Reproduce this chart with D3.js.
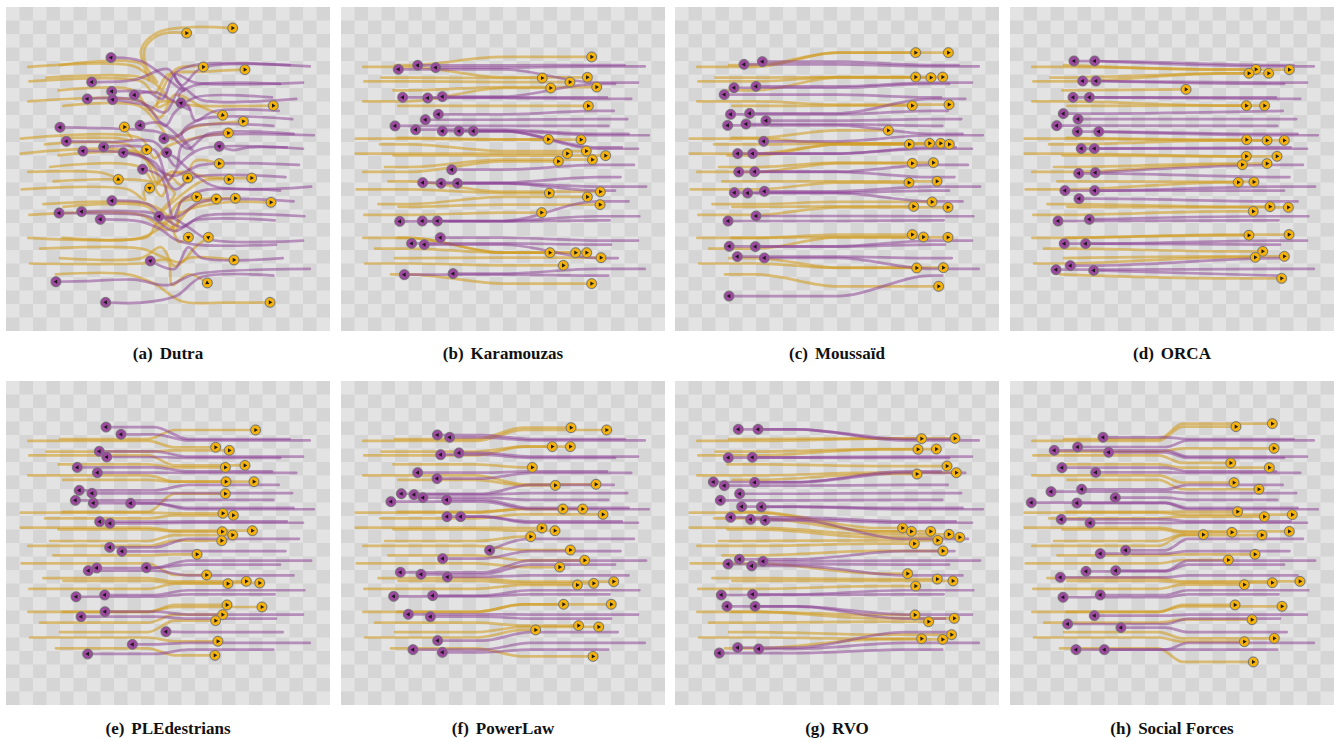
<!DOCTYPE html>
<html><head><meta charset="utf-8">
<script src="https://cdn.jsdelivr.net/npm/d3@7"></script>
<style>body{margin:0;background:#fff;} svg{display:block;}</style>
</head><body>
<svg id="chart" width="1336" height="742"></svg>
<script>
// ---------- DATA (scene coordinates in metres, 24 x 24 m, y pointing down) ----------
const panelLetters = ["(a)","(b)","(c)","(d)","(e)","(f)","(g)","(h)"];
const panelNames = ["Dutra","Karamouzas","Moussaïd","ORCA","PLEdestrians","PowerLaw","RVO","Social Forces"];

// common initial positions (same scenario for every model)
const yellowStarts = [[4.0,4.3],[1.65,4.44],[3.0,5.23],[1.73,5.51],[3.88,6.17],[1.65,6.99],[4.25,7.33],[4.2,9.7],[1.09,9.75],[2.89,10.17],[1.09,10.86],[3.88,10.99],[3.26,11.85],[1.65,12.22],[3.51,12.91],[1.16,13.51],[2.77,14.6],[4.25,14.8],[1.73,15.4],[1.65,17.1],[4.2,17.1],[2.52,17.9],[4.0,18.6],[1.78,19.0],[3.7,19.8]];
const purpleStarts = [[21.0,4.3],[22.5,4.4],[22.0,5.6],[20.3,5.7],[19.7,6.7],[21.5,6.8],[20.2,7.7],[21.2,8.3],[19.8,8.8],[21.3,9.4],[22.8,9.5],[20.8,10.4],[22.0,10.5],[21.7,11.7],[20.7,12.6],[22.6,13.3],[20.3,13.6],[21.3,14.4],[22.1,15.5],[19.9,15.8],[22.0,17.3],[20.0,17.6],[20.5,18.6],[22.5,19.4],[19.8,19.9]];

// (a) Dutra: final positions and intermediate way-points
const dutraYellowEnds = [[16.79,1.56],[13.38,1.93],[14.62,4.44],[17.70,4.64],[19.80,7.31],[16.05,8.02],[17.58,8.47],[8.77,8.89],[16.47,9.33],[10.42,10.57],[15.80,11.60],[13.46,12.67],[18.20,12.67],[8.32,12.77],[16.52,12.77],[10.64,13.41],[14.12,14.07],[16.99,14.17],[15.58,14.22],[19.63,14.47],[13.51,17.06],[14.99,17.06],[16.89,18.74],[14.91,20.44],[19.56,21.88]];
const dutraYellowVia = [
 [[10.0,4.2],[10.6,5.4],[10.0,3.2],[11.2,1.9],[13.5,1.5]],
 [[9.5,4.4],[11.2,5.6],[10.4,4.4],[10.3,3.0],[11.5,2.0]],
 [[10.0,5.2],[11.3,5.9],[12.0,7.0],[11.2,7.4],[12.6,4.6]],
 [[10.0,5.5],[11.0,6.4],[12.0,5.0],[14.5,4.8]],
 [[9.5,6.2],[10.6,7.6],[11.5,7.0],[14.0,7.3]],
 [[10.0,7.0],[11.4,8.2],[12.5,6.5],[14.5,7.4]],
 [[9.8,7.3],[11.2,8.6],[12.3,9.8],[13.5,9.0]],
 [[8.0,9.7],[9.3,9.8],[9.0,9.3]],
 [[10.0,9.75],[11.0,11.2],[12.0,10.3],[14.5,9.6]],
 [[9.0,10.2],[10.3,11.3],[10.0,10.7]],
 [[10.0,10.9],[11.2,13.0],[12.0,12.4],[13.0,13.2],[14.0,11.4]],
 [[10.0,11.0],[11.3,12.8],[10.6,13.8],[12.3,12.2]],
 [[10.0,11.9],[11.5,14.0],[12.5,12.3],[15.0,12.6]],
 [[7.2,12.3]],
 [[10.5,12.9],[12.5,13.8],[11.4,15.2],[14.5,12.9]],
 [[9.0,13.5],[10.3,14.3],[10.2,13.7]],
 [[10.5,14.6],[12.0,15.5],[12.6,16.6],[13.0,14.3]],
 [[10.5,14.8],[11.6,16.0],[12.8,14.5],[15.0,14.2]],
 [[10.0,15.4],[12.0,16.5],[13.8,14.8]],
 [[10.0,17.1],[11.5,16.3],[13.0,15.2],[16.0,14.5]],
 [[10.5,17.0],[11.2,16.0],[12.2,16.3],[12.8,17.4]],
 [[10.0,17.9],[11.8,18.6],[13.0,18.9],[14.0,17.8]],
 [[10.0,18.6],[11.5,17.8],[12.5,19.2],[13.5,18.6]],
 [[10.0,19.0],[12.0,18.8],[12.3,20.6],[13.5,19.8]],
 [[9.0,19.8],[11.0,20.5],[13.0,21.8],[16.0,21.9]]
];
const dutraPurpleEnds = [[7.78,3.75],[6.35,5.56],[7.83,6.25],[9.51,6.52],[6.02,6.81],[7.90,6.86],[12.96,7.11],[9.93,8.77],[4.0,8.91],[11.70,9.75],[4.47,9.95],[15.80,10.32],[7.23,10.37],[5.70,10.67],[8.69,10.79],[11.90,10.79],[10.12,12.02],[7.85,14.35],[5.60,15.16],[3.93,15.26],[11.33,15.51],[6.99,15.73],[10.69,18.81],[3.70,20.35],[7.38,21.88]];
const dutraPurpleVia = [
 [[14.0,4.3],[12.5,5.0],[13.2,6.2],[10.0,4.0]],
 [[14.5,4.5],[13.0,5.8],[12.0,4.6],[9.5,5.4]],
 [[14.0,5.6],[12.5,5.0],[11.6,6.8],[10.5,6.3]],
 [[14.0,5.8],[12.8,6.6],[13.6,7.6],[11.0,6.3]],
 [[14.0,6.7],[12.5,7.8],[11.8,8.8],[10.0,7.0]],
 [[14.5,6.9],[13.0,6.0],[11.8,7.8],[10.5,7.3]],
 [[15.5,7.7],[14.0,8.4],[13.5,7.3]],
 [[14.5,8.3],[13.0,9.4],[13.8,10.6],[11.5,8.6]],
 [[14.0,8.8],[12.5,9.6],[11.0,9.2],[8.0,9.0]],
 [[15.0,9.4],[13.5,10.5],[12.3,9.7]],
 [[14.5,9.6],[13.0,10.3],[12.6,11.8],[11.0,10.0],[8.0,10.0]],
 [[18.0,10.4],[16.8,10.6]],
 [[14.5,10.5],[13.0,11.5],[12.0,12.8],[11.0,10.6]],
 [[14.5,11.7],[12.5,12.5],[11.5,12.2],[10.0,11.0]],
 [[14.0,12.6],[12.5,13.5],[11.0,11.5]],
 [[15.5,13.3],[13.5,12.0],[12.6,11.2]],
 [[14.5,13.6],[13.0,14.4],[12.4,15.6],[11.5,12.6]],
 [[14.5,14.4],[12.8,15.5],[11.8,15.6],[10.5,14.6]],
 [[14.5,15.5],[13.0,16.3],[11.0,15.3]],
 [[14.0,15.8],[12.5,16.6],[10.5,15.5],[7.0,15.3]],
 [[15.0,17.2],[13.5,16.3],[12.3,15.6]],
 [[14.0,17.6],[12.5,17.2],[11.5,16.5],[10.0,15.9]],
 [[14.5,18.6],[13.5,17.8],[12.5,19.4]],
 [[14.0,19.8],[12.0,20.6],[9.5,20.2],[6.0,20.3]],
 [[14.5,20.0],[12.6,21.4],[10.0,21.9]]
];

// (b)-(h): final positions
const karamouzasYellowEnds = [[18.57,3.70],[18.25,5.21],[14.91,5.26],[16.96,5.56],[18.94,5.93],[15.53,6.0],[18.32,7.33],[15.36,9.80],[17.78,9.83],[18.17,10.67],[16.77,10.86],[19.60,11.01],[18.62,11.31],[16.10,11.43],[19.21,13.68],[15.43,13.78],[18.25,14.07],[19.19,14.64],[14.86,15.23],[15.48,18.20],[17.38,18.20],[18.20,18.20],[19.26,18.57],[16.47,19.14],[18.57,20.49]];
const karamouzasPurpleEnds = [[4.25,4.62],[5.68,4.32],[7.01,4.49],[4.57,6.69],[6.42,6.74],[7.51,6.64],[7.21,7.95],[6.25,8.35],[4.0,8.81],[5.53,9.09],[7.51,9.19],[8.74,9.19],[9.80,9.19],[8.20,12.05],[6.05,13.01],[7.41,13.06],[8.62,13.06],[4.35,15.88],[6.02,15.85],[7.14,15.85],[7.36,17.09],[5.23,17.51],[6.17,17.60],[4.69,19.83],[8.30,19.75]];
const moussaidYellowEnds = [[17.83,3.38],[20.25,3.38],[17.83,5.19],[18.96,5.23],[19.83,5.19],[17.58,7.31],[20.30,7.23],[15.80,9.14],[17.36,10.17],[18.86,10.10],[19.68,10.10],[20.32,10.17],[17.58,11.58],[19.14,11.53],[17.33,13.01],[19.41,12.91],[17.68,14.77],[19.04,14.44],[20.22,14.84],[17.58,16.86],[18.40,17.04],[20.22,17.06],[17.90,19.33],[19.88,19.31],[19.53,20.69]];
const moussaidPurpleEnds = [[5.11,4.25],[6.47,4.05],[4.37,5.98],[6.0,5.88],[3.65,6.49],[4.12,7.95],[5.53,7.88],[3.90,8.77],[5.26,8.67],[6.74,8.42],[6.57,9.95],[4.64,10.86],[5.75,10.86],[4.72,12.22],[5.90,12.20],[4.40,13.75],[5.38,13.78],[6.62,13.65],[6.0,15.48],[3.93,15.85],[4.02,17.73],[5.95,17.75],[4.62,18.49],[6.62,18.59],[4.0,21.41]];
const orcaYellowEnds = [[18.22,4.62],[17.70,4.91],[19.16,4.91],[20.69,4.64],[13.04,6.10],[17.51,7.31],[18.86,7.31],[17.53,9.83],[19.04,9.88],[20.32,9.88],[17.51,11.06],[19.78,11.06],[17.21,11.68],[19.04,11.60],[16.91,12.99],[18.07,12.96],[19.26,14.79],[20.62,14.84],[18.02,15.14],[17.70,16.91],[20.67,16.86],[18.72,18.10],[18.17,18.54],[20.32,18.47],[20.12,20.10]];
const orcaPurpleEnds = [[4.74,4.0],[6.27,4.0],[5.38,5.48],[6.37,5.48],[4.67,6.69],[5.88,6.69],[3.95,7.90],[5.04,8.30],[3.46,8.79],[4.99,9.23],[6.57,9.23],[5.28,10.49],[6.25,10.49],[5.09,12.32],[6.32,12.27],[4.07,13.60],[6.27,13.60],[5.11,14.20],[3.56,15.85],[5.88,15.73],[4.02,17.53],[5.60,17.53],[4.47,19.16],[3.41,19.46],[6.20,19.51]];
const pledestriansYellowEnds = [[18.49,3.63],[15.53,4.91],[16.54,5.14],[16.25,6.40],[17.70,6.25],[16.30,7.46],[18.37,7.46],[16.25,8.35],[16.07,9.80],[16.84,9.95],[16.02,11.16],[16.79,11.41],[18.25,11.09],[15.98,11.83],[14.15,12.84],[14.86,14.37],[16.44,15.01],[17.80,14.84],[18.79,14.96],[16.37,16.59],[18.96,16.74],[16.05,17.31],[15.53,17.75],[15.70,19.28],[15.48,20.32]];
const pledestriansPurpleEnds = [[7.41,3.41],[8.52,3.95],[6.91,5.21],[7.46,5.63],[5.28,6.40],[6.77,6.79],[5.43,8.10],[6.37,8.32],[5.14,8.84],[6.47,9.04],[9.23,9.06],[6.94,10.42],[7.70,10.54],[7.68,12.32],[8.59,12.62],[6.10,14.05],[6.72,13.85],[10.40,13.83],[5.19,15.98],[7.31,15.85],[7.33,17.09],[5.56,17.46],[11.85,18.57],[9.36,19.51],[6.05,20.22]];
const powerlawYellowEnds = [[17.04,3.46],[19.68,3.63],[15.65,4.86],[16.99,4.86],[14.17,6.40],[15.88,7.73],[18.89,7.65],[16.44,9.48],[17.90,9.48],[19.41,9.88],[14.89,10.89],[15.85,11.09],[14.05,11.53],[16.99,12.52],[18.05,13.28],[16.20,13.78],[17.51,15.11],[18.72,14.99],[20.20,14.86],[16.49,16.54],[20.02,16.54],[14.42,18.44],[17.60,18.12],[19.09,18.22],[18.67,20.40]];
const powerlawPurpleEnds = [[7.14,4.0],[8.05,4.17],[7.38,5.46],[8.74,5.33],[5.68,6.79],[7.11,7.23],[4.47,8.35],[5.41,8.42],[6.07,8.64],[7.83,8.81],[3.70,8.94],[7.85,10.05],[8.86,10.05],[11.01,12.54],[7.53,13.16],[4.40,14.17],[5.93,14.32],[7.88,14.52],[3.90,15.95],[6.79,15.90],[4.99,17.28],[6.62,17.46],[7.16,19.23],[5.33,19.90],[7.51,20.10]];
const rvoYellowEnds = [[18.27,4.27],[20.74,4.25],[18.0,5.06],[19.36,5.04],[20.15,6.30],[17.93,6.89],[20.84,6.79],[16.86,10.89],[17.51,11.14],[18.94,11.14],[20.30,11.36],[21.09,11.58],[17.73,12.05],[19.46,11.80],[19.85,12.59],[17.23,14.27],[19.43,14.67],[20.59,14.81],[17.83,15.19],[17.78,17.33],[20.69,17.58],[18.79,17.83],[20.49,18.79],[18.27,19.09],[19.83,19.14]];
const rvoPurpleEnds = [[4.69,3.58],[6.15,3.58],[3.95,5.68],[5.73,5.65],[2.84,7.48],[3.65,7.75],[5.90,7.51],[4.79,8.35],[3.36,8.84],[4.94,9.31],[6.40,9.33],[4.12,10.10],[5.60,10.25],[6.67,10.32],[4.77,13.21],[3.93,13.56],[5.68,13.70],[6.52,13.36],[3.43,15.85],[5.75,15.80],[3.85,16.69],[5.93,16.69],[3.28,20.15],[4.64,19.75],[6.20,19.85]];
const socialForcesYellowEnds = [[16.74,3.38],[19.43,3.16],[19.56,4.99],[16.35,6.07],[19.21,6.42],[16.59,7.53],[18.44,8.02],[16.86,9.68],[18.84,10.05],[20.91,9.90],[14.32,11.38],[16.44,11.21],[18.67,11.41],[20.69,11.14],[18.15,12.84],[16.17,13.26],[17.36,15.09],[19.43,14.94],[21.48,14.84],[16.67,16.59],[20.15,16.69],[17.93,17.68],[17.36,19.31],[19.58,19.06],[18.02,20.81]];
const socialForcesPurpleEnds = [[6.89,4.17],[3.28,5.14],[5.01,4.89],[7.31,5.28],[3.85,6.42],[6.35,6.77],[3.04,8.20],[5.31,8.02],[1.58,9.01],[4.96,9.04],[7.80,8.64],[3.80,10.25],[5.93,10.52],[6.69,12.79],[8.57,12.54],[5.63,14.10],[7.83,14.05],[3.73,14.54],[3.93,16.02],[6.69,15.85],[6.25,17.38],[4.27,18.0],[8.22,18.27],[4.89,19.90],[6.99,19.90]];

// x-range (m) where lanes change: [yellow from, yellow to, purple from, purple to], panels (b)-(h)
const laneChangeZone = [[5,12,19,12],[6,12,19,12],[4,16,20,6],[10.5,12.5,13.5,11],[10,13.5,14,10.5],[6,15,17,9],[11,12.8,13.2,11.5]];

// ---------- RENDERING ----------
const svg = d3.select("#chart");
const SIZE = 324, CELLS = 24;
const colsX = [6, 341, 675, 1010], rowsY = [7, 381], captionBase = [359, 734];
const YELLOW_LINE = "#d19c22", PURPLE_LINE = "#8b3f94";
const YELLOW_DOT = "#f5b20c", PURPLE_DOT = "#9b489e";

const laneEnds = [
  [karamouzasYellowEnds, karamouzasPurpleEnds],
  [moussaidYellowEnds, moussaidPurpleEnds],
  [orcaYellowEnds, orcaPurpleEnds],
  [pledestriansYellowEnds, pledestriansPurpleEnds],
  [powerlawYellowEnds, powerlawPurpleEnds],
  [rvoYellowEnds, rvoPurpleEnds],
  [socialForcesYellowEnds, socialForcesPurpleEnds]
];

function byY(a, b) { return a[1] - b[1]; }

function lanePoints(s, e, k1, k2, dir) {
  const pts = [s];
  let last = s[0];
  if ((k1 - s[0]) * dir > 0.3 && (e[0] - k1) * dir > 0.3) { pts.push([k1, s[1]]); last = k1; }
  if ((k2 - last) * dir > 0.3 && (e[0] - k2) * dir > 0.3) pts.push([k2, e[1]]);
  pts.push(e);
  return pts;
}

panelNames.forEach((name, pi) => {
  const px = colsX[pi % 4], py = rowsY[Math.floor(pi / 4)];
  const x = d3.scaleLinear().domain([0, CELLS]).range([px, px + SIZE]);
  const y = d3.scaleLinear().domain([0, CELLS]).range([py, py + SIZE]);
  const g = svg.append("g");

  // checkerboard floor
  g.append("rect").attr("x", px).attr("y", py).attr("width", SIZE).attr("height", SIZE).attr("fill", "#e3e3e3");
  const cells = [];
  for (let i = 0; i < CELLS; i++) for (let j = 0; j < CELLS; j++) if ((i + j) % 2 === 1) cells.push([i, j]);
  g.selectAll("rect.cell").data(cells).join("rect").attr("class", "cell")
    .attr("x", d => x(d[0])).attr("y", d => y(d[1]))
    .attr("width", x(1) - x(0)).attr("height", y(1) - y(0)).attr("fill", "#d5d5d5");

  // build agents
  const agents = [];
  if (pi === 0) {
    yellowStarts.forEach((s, i) => {
      const pts = [s, ...dutraYellowVia[i], dutraYellowEnds[i]];
      agents.push({ type: "y", pts, curve: d3.curveCatmullRom.alpha(0.5) });
    });
    purpleStarts.forEach((s, i) => {
      const pts = [s, ...dutraPurpleVia[i], dutraPurpleEnds[i]];
      agents.push({ type: "p", pts, curve: d3.curveCatmullRom.alpha(0.5) });
    });
  } else {
    const [yEnds, pEnds] = laneEnds[pi - 1];
    const z = laneChangeZone[pi - 1];
    const ys = yellowStarts.slice().sort(byY), ye = yEnds.slice().sort(byY);
    const ps = purpleStarts.slice().sort(byY), pe = pEnds.slice().sort(byY);
    ys.forEach((s, i) => agents.push({ type: "y", pts: lanePoints(s, ye[i], z[0], z[1], 1), curve: d3.curveMonotoneX, heading: 0 }));
    ps.forEach((s, i) => agents.push({ type: "p", pts: lanePoints(s, pe[i], z[2], z[3], -1), curve: d3.curveMonotoneX, heading: Math.PI }));
  }

  // trajectories
  agents.forEach(a => {
    const line = d3.line().x(d => x(d[0])).y(d => y(d[1])).curve(a.curve);
    const drawPts = (a.curve === d3.curveMonotoneX && a.type === "p") ? a.pts.slice().reverse() : a.pts;
    g.append("path").attr("d", line(drawPts))
      .attr("fill", "none")
      .attr("stroke", a.type === "y" ? YELLOW_LINE : PURPLE_LINE)
      .attr("stroke-opacity", a.type === "y" ? 0.58 : 0.52)
      .attr("stroke-width", 2.7)
      .attr("stroke-linecap", "round").attr("stroke-linejoin", "round");
  });

  // agents (current positions)
  agents.forEach(a => {
    const e = a.pts[a.pts.length - 1], p = a.pts[a.pts.length - 2];
    let ang = a.heading;
    if (ang === undefined) ang = Math.atan2(y(e[1]) - y(p[1]), x(e[0]) - x(p[0]));
    const cx = x(e[0]), cy = y(e[1]);
    const ag = g.append("g").attr("transform", `translate(${cx},${cy})`);
    ag.append("circle").attr("r", 5.9).attr("fill", "#9a9a9a").attr("opacity", 0.35);
    ag.append("circle").attr("r", 4.9)
      .attr("fill", a.type === "y" ? YELLOW_DOT : PURPLE_DOT)
      .attr("stroke", "#6e6e6e").attr("stroke-width", 0.9);
    ag.append("path").attr("d", "M2.3,0L-1.3,-2.1L-1.3,2.1Z")
      .attr("transform", `rotate(${ang * 180 / Math.PI})`)
      .attr("fill", "#1a1a1a");
  });

  // caption
  const t = svg.append("text")
    .attr("x", px + SIZE / 2).attr("y", captionBase[Math.floor(pi / 4)])
    .attr("text-anchor", "middle")
    .attr("font-family", "'Liberation Serif', 'DejaVu Serif', serif")
    .attr("font-weight", "bold").attr("font-size", 17).attr("fill", "#111");
  t.append("tspan").text(panelLetters[pi]);
  t.append("tspan").attr("dx", 7).text(name);
});
</script>
</body></html>
